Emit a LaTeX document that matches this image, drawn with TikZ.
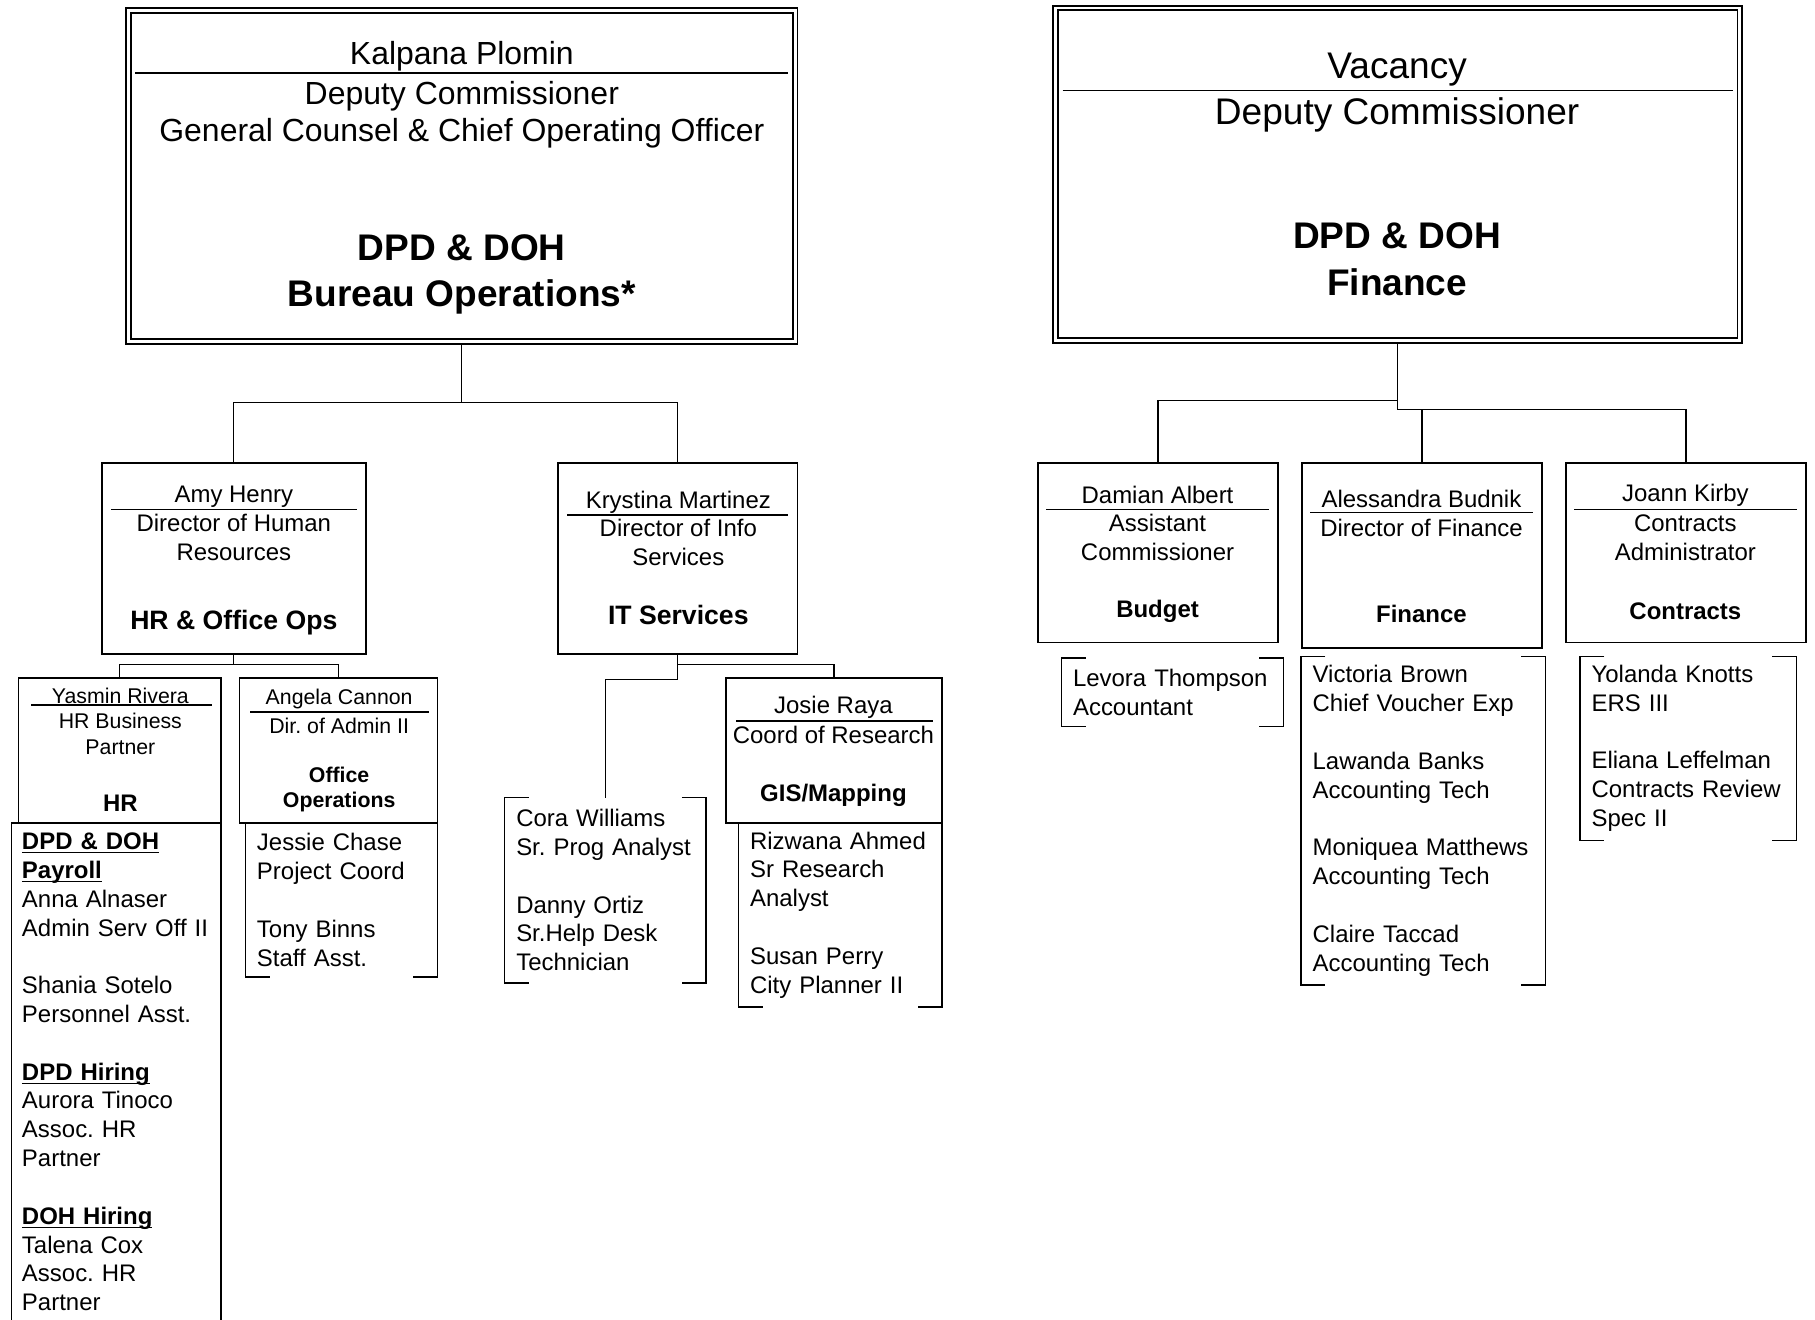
\documentclass[tikz,border=0pt]{standalone}
\usepackage{fontspec}
\setmainfont{Liberation Sans}
\usetikzlibrary{calc}
\newcommand{\ulhead}[1]{\underline{\smash{\textbf{#1}}}\vphantom{\textbf{#1}}}

\begin{document}
\frenchspacing
\begin{tikzpicture}[x=0.5pt, y=-0.5pt, hdbox/.style={draw, double, line width=0.8pt, double distance=1.2pt, inner sep=0, outer sep=1.4pt}, unitbox/.style={draw, line width=0.75pt, inner sep=0, outer sep=0}, listbox/.style={inner sep=0, outer sep=0, align=left, font=\fontsize{10.35}{12.45}\selectfont}, txt/.style={inner sep=0, align=center, font=\fontsize{10.35}{12.5}\selectfont}, txts/.style={inner sep=0, align=center, font=\fontsize{9.2}{11}\selectfont}, txtm/.style={inner sep=0, align=center, font=\fontsize{13.8}{16}\selectfont}, txtl/.style={inner sep=0, align=center, font=\fontsize{16}{20}\selectfont}, dept/.style={txt, font=\bfseries\fontsize{10.35}{12.5}\selectfont}, depts/.style={txt, font=\bfseries\fontsize{9.2}{11}\selectfont}, deptl/.style={txt, font=\bfseries\fontsize{11.5}{13}\selectfont}, hdept/.style={txt, font=\bfseries\fontsize{16}{20}\selectfont}, namerule/.style={line width=0.6pt}, conn/.style={line width=0.55pt}, brk/.style={line width=0.65pt}]
                \useasboundingbox (0,0) rectangle (1568,1140);
                % top boxes
                \node[hdbox, minimum width=288pt, minimum height=143pt] (kp) at (399,152) {};
                \draw[namerule] (117,63) -- (681,63);
                \node[txtm] (kpname) at (399,49) {Kalpana Plomin};
                \node[txtm] (kptitle) at (399,99) {Deputy Commissioner\\General Counsel \& Chief Operating Officer};
                \node[hdept] (kpdept) at (399,237) {DPD \& DOH\\Bureau Operations*};
                \node[hdbox, minimum width=295.5pt, minimum height=143.5pt] (vac) at (1207.5,150.5) {};
                \draw[namerule] (918,78) -- (1497,78);
                \node[txtl] (vacname) at (1207,60) {Vacancy};
                \node[txtl] (vactitle) at (1207,99) {Deputy Commissioner};
                \node[hdept] (vacdept) at (1207,224) {DPD \& DOH\\Finance};
                % second row
                \node[unitbox, minimum width=114pt, minimum height=82.5pt] (ah) at (202,482.5) {};
                \draw[namerule] (96,440) -- (308,440);
                \node[txt] (ahname) at (202,429) {Amy Henry};
                \node[txt] (ahtitle) at (202,464.5) {Director of Human\\Resources};
                \node[deptl] (ahdept) at (202,538) {HR \& Office Ops};
                \node[unitbox, minimum width=103.5pt, minimum height=82.5pt] (km) at (585.5,482.5) {};
                \draw[namerule] (490,445) -- (681,445);
                \node[txt] (kmname) at (586,434) {Krystina Martinez};
                \node[txt] (kmtitle) at (586,469) {Director of Info\\Services};
                \node[deptl] (kmdept) at (586,531) {IT Services};
                \node[unitbox, minimum width=103.5pt, minimum height=77.5pt] (da) at (1000.5,477.5) {};
                \draw[namerule] (904,440) -- (1096,440);
                \node[txt] (daname) at (1000,428) {Damian Albert};
                \node[txt] (datitle) at (1000,464.5) {Assistant\\Commissioner};
                \node[dept] (dadept) at (1000,528) {Budget};
                \node[unitbox, minimum width=103.5pt, minimum height=80pt] (ab) at (1228.5,480) {};
                \draw[namerule] (1132,443) -- (1324,443);
                \node[txt] (abname) at (1228,431) {Alessandra Budnik};
                \node[txt] (abtitle) at (1228,456) {Director of Finance};
                \node[dept] (abdept) at (1228,530) {Finance};
                \node[unitbox, minimum width=103.5pt, minimum height=77.5pt] (jk) at (1456.5,477.5) {};
                \draw[namerule] (1360,440) -- (1552,440);
                \node[txt] (jkname) at (1456,428) {Joann Kirby};
                \node[txt] (jktitle) at (1456,464.5) {Contracts\\Administrator};
                \node[dept] (jkdept) at (1456,528) {Contracts};
                % third row
                \node[unitbox, minimum width=87.5pt, minimum height=62.5pt] (yr) at (103.5,648.5) {};
                \draw[namerule] (27,609) -- (183,609);
                \node[txts] (yrname) at (104,601) {Yasmin Rivera};
                \node[txts] (yrtitle) at (104,634) {HR Business\\Partner};
                \node[dept] (yrdept) at (104,694) {HR};
                \node[unitbox, minimum width=85.5pt, minimum height=62.5pt] (ac) at (292.5,648.5) {};
                \draw[namerule] (216,615) -- (371,615);
                \node[txts] (acname) at (293,604) {Angela Cannon};
                \node[txts] (actitle) at (293,627) {Dir. of Admin II};
                \node[depts] (acdept) at (293,682) {Office\\Operations};
                \node[unitbox, minimum width=93.5pt, minimum height=62.5pt] (jr) at (720.5,648.5) {};
                \draw[namerule] (636,623) -- (806,623);
                \node[txt] (jrname) at (720,611) {Josie Raya};
                \node[txt] (jrtitle) at (720,635) {Coord of Research};
                \node[dept] (jrdept) at (720,687) {GIS/Mapping};
                % staff lists
                \node[listbox, minimum width=90.5pt, minimum height=215pt, text width=81.5pt] (hrl) at (100.5,926) {\ulhead{DPD \& DOH}\\\ulhead{Payroll}\\Anna Alnaser\\Admin Serv Off II\\[12.45pt]Shania Sotelo\\Personnel Asst.\\[12.45pt]\ulhead{DPD Hiring}\\Aurora Tinoco\\Assoc. HR\\Partner\\[12.45pt]\ulhead{DOH Hiring}\\Talena Cox\\Assoc. HR\\Partner};
                \node[listbox, minimum width=83pt, minimum height=66.5pt, text width=73pt] (acl) at (295,777.5) {Jessie Chase\\Project Coord\\[12.45pt]Tony Binns\\Staff Asst.};
                \node[listbox, minimum width=87pt, minimum height=80pt, text width=77pt] (cw) at (523,769) {Cora Williams\\Sr. Prog Analyst\\[12.45pt]Danny Ortiz\\Sr.Help Desk\\Technician};
                \node[listbox, minimum width=88pt, minimum height=79.5pt, text width=78pt] (jrl) at (726,790.5) {Rizwana Ahmed\\Sr Research\\Analyst\\[12.45pt]Susan Perry\\City Planner II};
                \node[listbox, minimum width=96pt, minimum height=29.5pt, text width=86pt] (lt) at (1013,598) {Levora Thompson\\Accountant};
                \node[listbox, minimum width=105.5pt, minimum height=142pt, text width=95.5pt] (abl) at (1229.5,709) {Victoria Brown\\Chief Voucher Exp\\[12.45pt]Lawanda Banks\\Accounting Tech\\[12.45pt]Moniquea Matthews\\Accounting Tech\\[12.45pt]Claire Taccad\\Accounting Tech};
                \node[listbox, minimum width=93.5pt, minimum height=79.5pt, text width=83.5pt] (jkl) at (1458.5,646.5) {Yolanda Knotts\\ERS III\\[12.45pt]Eliana Leffelman\\Contracts Review\\Spec II};
                % list frames
                \draw[brk] ($(hrl.south west)+(0,12)$) |- (hrl.north east) -- ($(hrl.south east)+(0,12)$);
                \draw[brk] (acl.north west) -- (acl.south west) -- ++(21,0);
                \draw[brk] (acl.north east) -- (acl.south east) -- ++(-21,0);
                \draw[brk] (jrl.north west) -- (jrl.south west) -- ++(21,0);
                \draw[brk] (jrl.north east) -- (jrl.south east) -- ++(-21,0);
                \draw[brk] ($(cw.north west)+(21,0)$) -| (cw.south west) -- ++(21,0);
                \draw[brk] ($(cw.north east)+(-21,0)$) -| (cw.south east) -- ++(-21,0);
                \draw[brk] ($(lt.north west)+(21,0)$) -| (lt.south west) -- ++(21,0);
                \draw[brk] ($(lt.north east)+(-21,0)$) -| (lt.south east) -- ++(-21,0);
                \draw[brk] ($(abl.north west)+(21,0)$) -| (abl.south west) -- ++(21,0);
                \draw[brk] ($(abl.north east)+(-21,0)$) -| (abl.south east) -- ++(-21,0);
                \draw[brk] ($(jkl.north west)+(21,0)$) -| (jkl.south west) -- ++(21,0);
                \draw[brk] ($(jkl.north east)+(-21,0)$) -| (jkl.south east) -- ++(-21,0);
                % edges
                \draw[conn] (kp.south) -- ++(0,50) -| (ah.north);
                \draw[conn] (kp.south) -- ++(0,50) -| (km.north);
                \draw[conn] (ah.south) -- ++(0,9) -| (yr.north);
                \draw[conn] (ah.south) -- ++(0,9) -| (ac.north);
                \draw[conn] (km.south) -- ++(0,9) -| (jr.north);
                \draw[conn] (km.south) -- ++(0,22) -| (cw.north);
                \draw[conn] (vac.south) -- ++(0,49) -| (da.north);
                \draw[conn] (vac.south) -- ++(0,57) -| (ab.north);
                \draw[conn] (vac.south) -- ++(0,57) -| (jk.north);
            \end{tikzpicture}
\end{document}
